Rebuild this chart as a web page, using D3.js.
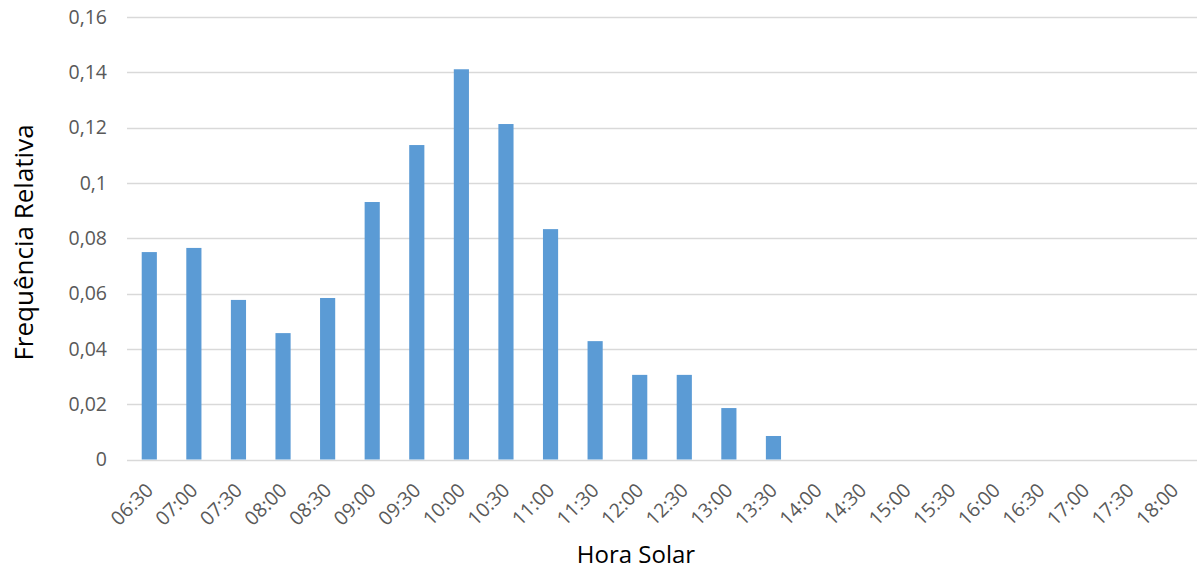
<!DOCTYPE html>
<html>
<head>
<meta charset="utf-8">
<script src="https://cdn.jsdelivr.net/npm/d3@7"></script>
<style>
  html, body { margin: 0; padding: 0; background: #fff; }
  svg { display: block; }
  text { font-family: "Open Sans", "Noto Sans", sans-serif; }
</style>
</head>
<body>
<svg id="chart" width="1198" height="571"></svg>
<script>
// Relative frequency by solar hour
const horas = ["06:30","07:00","07:30","08:00","08:30","09:00","09:30","10:00",
  "10:30","11:00","11:30","12:00","12:30","13:00","13:30","14:00","14:30",
  "15:00","15:30","16:00","16:30","17:00","17:30","18:00"];
const frequencias = [0.075, 0.0765, 0.0577, 0.0457, 0.0584, 0.0931, 0.1137, 0.1411,
  0.1213, 0.0833, 0.0428, 0.0306, 0.0306, 0.0186, 0.0085, 0, 0,
  0, 0, 0, 0, 0, 0, 0];
const yTicks = [0, 0.02, 0.04, 0.06, 0.08, 0.1, 0.12, 0.14, 0.16];

const svg = d3.select("#chart");
const margin = { left: 127, right: 1, top: 17, bottom: 111.5 };
const W = 1198, H = 571;

const x = d3.scaleBand()
  .domain(horas)
  .range([margin.left, W - margin.right])
  .paddingInner(0.66)
  .paddingOuter(0.33);

const y = d3.scaleLinear()
  .domain([0, 0.16])
  .range([H - margin.bottom, margin.top]);

const fmt = v => String(v).replace(".", ",");

// Horizontal gridlines
svg.append("g")
  .selectAll("line")
  .data(yTicks)
  .join("line")
  .attr("x1", margin.left)
  .attr("x2", W - margin.right)
  .attr("y1", d => Math.round(y(d)) + 0.5)
  .attr("y2", d => Math.round(y(d)) + 0.5)
  .attr("stroke", "#d9d9d9")
  .attr("stroke-width", 1.3);

// Y axis labels
const yAxis = d3.axisLeft(y).tickValues(yTicks).tickFormat(fmt).tickSize(0).tickPadding(20);
svg.append("g")
  .attr("transform", `translate(${margin.left},0)`)
  .call(yAxis)
  .call(g => g.select(".domain").remove())
  .selectAll("text")
  .attr("font-size", 19.5)
  .attr("fill", "#595959")
  .style("font-family", "'Open Sans', sans-serif");

// Bars
svg.append("g")
  .selectAll("rect")
  .data(horas.map((h, i) => ({ h, v: frequencias[i] })))
  .join("rect")
  .attr("x", d => x(d.h))
  .attr("width", x.bandwidth())
  .attr("y", d => y(d.v))
  .attr("height", d => y(0) - y(d.v))
  .attr("fill", "#5b9bd5");

// X axis labels, rotated
const xAxis = d3.axisBottom(x).tickSize(0).tickPadding(0);
svg.append("g")
  .attr("transform", `translate(0,${y(0)})`)
  .call(xAxis)
  .call(g => g.select(".domain").remove())
  .selectAll("text")
  .attr("font-size", 19.5)
  .attr("fill", "#595959")
  .style("font-family", "'Open Sans', sans-serif")
  .attr("text-anchor", "end")
  .attr("dy", null)
  .attr("y", 0)
  .attr("transform", "translate(5,32) rotate(-45)");

// Axis titles
svg.append("text")
  .attr("x", 636)
  .attr("y", 563)
  .attr("text-anchor", "middle")
  .attr("font-size", 24)
  .attr("fill", "#000")
  .text("Hora Solar");

svg.append("text")
  .attr("transform", "translate(33,242.5) rotate(-90)")
  .attr("text-anchor", "middle")
  .attr("font-size", 26)
  .attr("fill", "#000")
  .text("Frequência Relativa");
</script>
</body>
</html>
